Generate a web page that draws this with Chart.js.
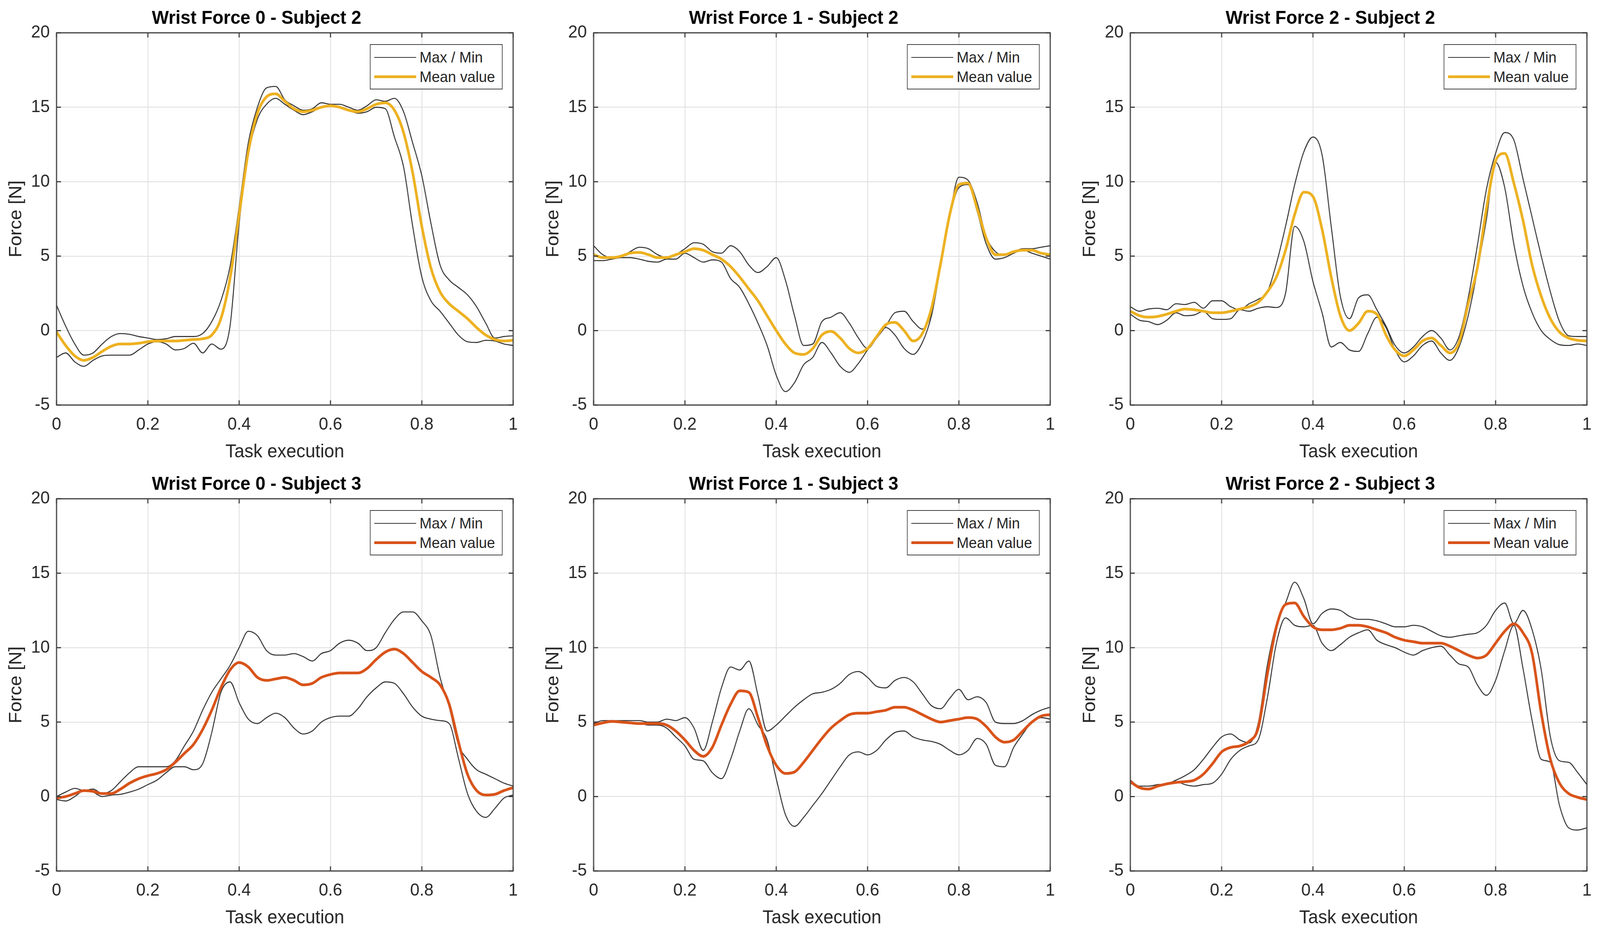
<!DOCTYPE html>
<html>
<head>
<meta charset="utf-8">
<script src="https://cdn.jsdelivr.net/npm/chart.js@4.4.1/dist/chart.umd.min.js"></script>
<style>
  html, body { margin: 0; padding: 0; background: #fff; overflow: hidden; }
  #frame { position: relative; overflow: hidden; background: #fff; }
  #page { position: absolute; left: 0; top: 0; width: 4275px; height: 2376px; background: #fff; transform-origin: 0 0; }
  #page canvas { position: absolute; }
  .legend { position: absolute; width: 355px; height: 116px; box-sizing: border-box;
            border: 2.5px solid #404040; background: #fff;
            font-family: "Liberation Sans", Arial, sans-serif; font-size: 39px; color: #262626; }
  .legend .sw { position: absolute; left: 9.5px; width: 112px; }
  .legend .lbl { position: absolute; left: 131px; line-height: 44px; white-space: nowrap; }
</style>
</head>
<body>
<div id="frame"><div id="page"></div></div>
<script>
// x positions (normalised task execution)
const taskX = [0,0.02,0.04,0.06,0.08,0.1,0.12,0.14,0.16,0.18,0.2,0.22,0.24,0.26,0.28,0.3,0.32,0.34,0.36,0.38,
  0.4,0.42,0.44,0.46,0.48,0.5,0.52,0.54,0.56,0.58,0.6,0.62,0.64,0.66,0.68,0.7,0.72,0.74,0.76,0.78,
  0.8,0.82,0.84,0.86,0.88,0.9,0.92,0.94,0.96,0.98,1];

const xTickValues = [0, 0.2, 0.4, 0.6, 0.8, 1];
const xTickLabels = ["0", "0.2", "0.4", "0.6", "0.8", "1"];
const yTickValues = [-5, 0, 5, 10, 15, 20];
const yTickLabels = ["-5", "0", "5", "10", "15", "20"];

// Wrist Force 0 - Subject 2
const f0s2Max = [1.7,0.3,-0.9,-1.65,-1.5,-0.9,-0.4,-0.2,-0.25,-0.4,-0.5,-0.6,-0.55,-0.4,-0.4,-0.4,-0.2,0.6,2.0,4.3,
  8.3,12.6,15.0,16.3,16.4,15.5,15.1,14.8,14.9,15.3,15.2,15.2,15.0,14.8,15.1,15.5,15.4,15.6,14.7,12.6,
  10.4,7.2,4.4,3.4,2.9,2.4,1.6,0.5,-0.5,-0.4,-0.35];
const f0s2Min = [-1.8,-1.5,-2.1,-2.4,-2.0,-1.7,-1.65,-1.65,-1.65,-1.3,-0.9,-0.75,-0.9,-1.3,-1.2,-0.85,-1.5,-0.9,-1.25,0.3,
  7.2,11.8,14.2,15.2,15.6,15.2,14.8,14.5,14.7,15.0,15.1,15.0,14.8,14.6,14.7,15.0,14.9,13.0,11.0,7.0,
  3.6,2.0,1.3,0.5,-0.3,-0.75,-0.8,-0.65,-0.7,-0.9,-1.0];
const f0s2Mean = [-0.1,-1.0,-1.7,-2.0,-1.8,-1.4,-1.05,-0.9,-0.9,-0.85,-0.75,-0.7,-0.7,-0.7,-0.65,-0.6,-0.55,-0.3,0.8,3.5,
  7.8,12.0,14.6,15.7,15.9,15.4,14.9,14.7,14.8,15.0,15.1,15.0,14.8,14.7,14.9,15.2,15.3,14.8,13.3,10.6,
  7.0,4.2,2.6,1.8,1.3,0.8,0.2,-0.3,-0.6,-0.7,-0.65];

// Wrist Force 1 - Subject 2
const f1s2Max = [5.7,5.1,4.9,5.0,5.3,5.6,5.5,5.1,4.9,5.1,5.5,5.9,5.8,5.3,5.2,5.7,5.3,4.4,3.9,4.3,
  4.9,3.4,1.0,-1.0,-0.9,0.6,0.9,1.2,0.5,-0.5,-1.2,-0.5,0.3,1.2,1.3,0.6,0.1,1.2,4.6,7.8,
  10.3,10.1,8.6,6.3,5.3,5.1,5.3,5.5,5.5,5.6,5.7];
const f1s2Min = [4.7,4.7,4.8,4.9,4.9,4.8,4.65,4.6,4.8,4.8,5.2,4.9,4.6,4.75,4.6,3.5,2.9,1.8,0.5,-1.0,
  -3.0,-4.1,-3.5,-2.3,-1.8,-0.8,-1.5,-2.4,-2.8,-2.2,-1.3,-0.5,0.2,-0.3,-1.2,-1.6,-0.8,1.0,4.3,7.6,
  9.6,9.8,8.0,5.8,4.8,4.9,5.2,5.4,5.2,5.0,4.8];
const f1s2Mean = [5.1,4.9,4.9,5.0,5.2,5.25,5.1,4.9,4.9,5.1,5.3,5.5,5.4,5.1,4.8,4.3,3.6,2.8,2.0,1.0,
  0.0,-0.9,-1.5,-1.6,-1.2,-0.3,-0.05,-0.5,-1.2,-1.5,-1.2,-0.4,0.4,0.55,0.0,-0.7,-0.2,1.5,4.5,7.8,
  9.8,9.9,8.2,6.2,5.1,5.1,5.3,5.4,5.4,5.2,5.1];

// Wrist Force 2 - Subject 2
const f2s2Max = [1.6,1.3,1.45,1.5,1.4,1.8,1.75,1.9,1.5,2.0,2.0,1.6,1.4,1.8,2.1,2.6,4.5,7.0,9.8,12.0,
  13.0,11.8,7.0,2.3,0.8,2.2,2.4,1.4,0.3,-1.0,-1.5,-1.1,-0.4,0.0,-0.5,-1.3,-0.4,2.2,5.7,9.5,
  11.9,13.3,12.8,10.2,7.6,5.0,2.6,0.6,-0.35,-0.4,-0.4];
const f2s2Min = [1.1,0.7,0.6,0.4,0.7,1.2,1.0,1.05,1.3,0.8,0.75,0.8,1.4,1.3,1.5,1.6,1.55,2.5,7.0,6.0,
  3.3,1.2,-1.1,-0.8,-1.3,-1.4,-0.2,0.9,0.2,-1.3,-2.1,-1.7,-1.0,-0.7,-1.5,-2.0,-1.1,1.0,4.0,7.5,
  11.3,9.6,5.8,3.0,1.2,0.0,-0.6,-0.95,-1.0,-0.9,-1.0];
const f2s2Mean = [1.3,1.0,0.9,0.95,1.1,1.3,1.45,1.4,1.3,1.2,1.2,1.3,1.45,1.6,1.9,2.6,3.6,5.4,7.8,9.3,
  9.0,6.8,3.6,1.0,0.0,0.5,1.3,1.1,-0.3,-1.3,-1.7,-1.3,-0.7,-0.5,-1.0,-1.5,-0.8,1.8,4.2,8.2,
  11.4,11.9,9.9,7.4,4.4,2.3,0.8,-0.1,-0.5,-0.65,-0.7];

// Wrist Force 0 - Subject 3
const f0s3Max = [0.0,0.3,0.55,0.4,0.5,0.2,0.4,1.0,1.6,2.0,2.0,2.0,2.0,2.4,3.4,4.4,5.8,7.0,7.9,8.8,
  10.0,11.1,10.8,9.8,9.5,9.5,9.6,9.4,9.1,9.6,9.8,10.3,10.5,10.3,9.8,10.0,11.0,11.9,12.4,12.4,
  11.8,10.8,8.0,6.0,3.5,2.5,1.8,1.5,1.2,0.9,0.7];
const f0s3Min = [-0.2,-0.3,0.0,0.4,0.3,0.0,0.1,0.15,0.3,0.5,0.8,1.1,1.6,2.0,2.0,1.8,2.2,4.3,7.0,7.7,
  6.3,5.2,4.9,5.3,5.6,5.3,4.6,4.2,4.4,5.0,5.3,5.4,5.4,5.9,6.7,7.3,7.7,7.6,6.9,6.0,
  5.4,5.2,5.1,4.9,2.6,0.2,-1.0,-1.4,-0.8,-0.1,0.1];
const f0s3Mean = [-0.1,0.0,0.2,0.4,0.35,0.2,0.2,0.5,0.9,1.2,1.4,1.55,1.8,2.3,2.9,3.5,4.5,5.8,7.3,8.5,
  9.0,8.7,8.0,7.8,7.9,8.0,7.8,7.5,7.6,8.0,8.2,8.3,8.3,8.3,8.6,9.2,9.7,9.9,9.6,9.0,
  8.4,8.0,7.5,6.2,3.7,1.5,0.4,0.1,0.15,0.4,0.6];

// Wrist Force 1 - Subject 3
const f1s3Max = [4.9,5.1,5.1,5.1,5.1,5.1,5.0,5.0,5.2,5.1,5.3,4.6,3.1,5.0,7.3,8.7,8.5,9.1,6.8,4.4,
  4.8,5.4,6.0,6.5,6.9,7.0,7.2,7.6,8.2,8.4,8.0,7.4,7.3,7.8,8.0,7.7,6.9,6.1,5.9,6.6,
  7.2,6.5,6.7,6.3,5.0,4.9,4.9,5.1,5.5,5.8,6.0];
const f1s3Min = [4.8,4.9,5.0,5.0,4.9,4.9,4.8,4.8,4.6,4.0,3.4,2.5,2.4,1.6,1.2,2.5,4.4,5.9,4.8,3.8,
  1.2,-1.2,-2.0,-1.4,-0.6,0.2,1.1,2.0,2.8,3.0,2.8,3.1,3.8,4.3,4.4,4.0,3.8,3.7,3.5,3.1,
  2.8,3.1,3.9,3.5,2.1,2.0,3.3,4.2,5.0,5.3,5.2];
const f1s3Mean = [4.8,4.95,5.05,5.0,4.95,4.9,4.9,4.9,4.8,4.4,3.8,3.1,2.7,3.3,4.8,6.2,7.1,7.0,5.3,3.4,
  2.1,1.55,1.65,2.3,3.1,3.9,4.6,5.1,5.5,5.6,5.6,5.7,5.8,6.0,6.0,5.8,5.5,5.2,5.0,5.1,
  5.2,5.3,5.2,4.7,4.0,3.65,3.8,4.4,5.0,5.4,5.5];

// Wrist Force 2 - Subject 3
const f2s3Max = [1.1,0.7,0.7,0.8,0.85,1.1,1.4,1.8,2.5,3.3,4.0,4.2,3.8,3.6,4.9,8.8,11.6,13.0,14.4,13.3,
  11.6,12.3,12.6,12.5,12.1,11.9,11.9,11.8,11.6,11.4,11.4,11.5,11.4,11.1,10.8,10.7,10.8,10.9,11.0,11.5,
  12.5,13.0,11.6,12.5,11.2,8.5,4.0,2.4,2.3,1.6,0.8];
const f2s3Min = [0.9,0.6,0.5,0.7,0.9,1.0,0.8,0.7,0.8,0.9,1.5,2.5,3.1,3.4,3.8,6.6,10.3,12.0,11.5,11.4,
  11.5,10.3,9.8,10.2,10.7,11.0,11.2,10.5,10.2,10.0,9.7,9.5,9.8,10.0,10.1,9.5,8.9,8.7,7.5,6.8,
  7.8,9.8,11.5,8.6,5.1,2.5,2.3,-0.6,-2.1,-2.25,-2.1];
const f2s3Mean = [1.0,0.6,0.5,0.7,0.85,0.95,1.0,1.1,1.5,2.2,3.0,3.3,3.4,3.7,4.6,8.2,11.4,12.9,13.0,12.1,
  11.4,11.2,11.2,11.3,11.5,11.5,11.4,11.2,11.0,10.7,10.5,10.4,10.3,10.3,10.3,10.1,9.8,9.5,9.3,9.5,
  10.3,11.1,11.6,11.0,9.6,5.6,2.5,0.9,0.2,-0.05,-0.2];

const meanYellow = "#EDB120";
const meanRed = "#D95319";
const envColor = "#333333";
const FONT = "'Liberation Sans', Arial, sans-serif";

const panels = [
  { title: "Wrist Force 0 - Subject 2", max: f0s2Max, min: f0s2Min, mean: f0s2Mean, color: meanYellow, col: 0, row: 0 },
  { title: "Wrist Force 1 - Subject 2", max: f1s2Max, min: f1s2Min, mean: f1s2Mean, color: meanYellow, col: 1, row: 0 },
  { title: "Wrist Force 2 - Subject 2", max: f2s2Max, min: f2s2Min, mean: f2s2Mean, color: meanYellow, col: 2, row: 0 },
  { title: "Wrist Force 0 - Subject 3", max: f0s3Max, min: f0s3Min, mean: f0s3Mean, color: meanRed, col: 0, row: 1 },
  { title: "Wrist Force 1 - Subject 3", max: f1s3Max, min: f1s3Min, mean: f1s3Mean, color: meanRed, col: 1, row: 1 },
  { title: "Wrist Force 2 - Subject 3", max: f2s3Max, min: f2s3Min, mean: f2s3Mean, color: meanRed, col: 2, row: 1 }
];

// plot-area geometry (pixels of the 4275 x 2376 design)
const plotLefts = [151, 1586, 3020];
const plotTops = [84, 1277];
const PLOT_W = 1220, PLOT_H = 953;
const AXIS_W = 151, TOP_H = 84, BOTTOM_H = 150, RIGHT_PAD = 20;

// axes box + inward tick marks, MATLAB style
const axesBox = {
  id: "axesBox",
  afterDraw(chart) {
    const { ctx, chartArea: a, scales } = chart;
    const tick = 12;
    ctx.save();
    ctx.strokeStyle = "#404040";
    ctx.lineWidth = 3;
    ctx.beginPath();
    scales.x.ticks.forEach(t => {
      const px = scales.x.getPixelForValue(t.value);
      ctx.moveTo(px, a.bottom); ctx.lineTo(px, a.bottom - tick);
      ctx.moveTo(px, a.top); ctx.lineTo(px, a.top + tick);
    });
    scales.y.ticks.forEach(t => {
      const py = scales.y.getPixelForValue(t.value);
      ctx.moveTo(a.left, py); ctx.lineTo(a.left + tick, py);
      ctx.moveTo(a.right, py); ctx.lineTo(a.right - tick, py);
    });
    ctx.stroke();
    ctx.strokeRect(a.left, a.top, a.right - a.left, a.bottom - a.top);
    ctx.restore();
  }
};

function toPoints(values) {
  return taskX.map((x, i) => ({ x, y: values[i] }));
}

function addLegend(page, p) {
  const left = plotLefts[p.col] + PLOT_W - 28 - 355;
  const top = plotTops[p.row] + 29;
  const lg = document.createElement("div");
  lg.className = "legend";
  lg.style.left = left + "px";
  lg.style.top = top + "px";
  lg.innerHTML = `
    <div class="sw" style="top:30.5px;height:2.6px;background:${envColor}"></div>
    <div class="lbl" style="top:9.5px">Max / Min</div>
    <div class="sw" style="top:78px;height:7px;background:${p.color}"></div>
    <div class="lbl" style="top:59.5px">Mean value</div>`;
  page.appendChild(lg);
}

function renderPanel(page, p) {
  const canvas = document.createElement("canvas");
  const w = AXIS_W + PLOT_W + RIGHT_PAD;
  const h = TOP_H + PLOT_H + BOTTOM_H;
  canvas.width = w;
  canvas.height = h;
  canvas.style.width = w + "px";
  canvas.style.height = h + "px";
  canvas.style.left = (plotLefts[p.col] - AXIS_W) + "px";
  canvas.style.top = (plotTops[p.row] - TOP_H) + "px";
  page.appendChild(canvas);

  new Chart(canvas, {
    type: "line",
    data: {
      datasets: [
        { label: "Mean value", data: toPoints(p.mean), borderColor: p.color, borderWidth: 7 },
        { label: "Max", data: toPoints(p.max), borderColor: envColor, borderWidth: 2.6 },
        { label: "Min", data: toPoints(p.min), borderColor: envColor, borderWidth: 2.6 }
      ]
    },
    options: {
      responsive: false,
      animation: false,
      devicePixelRatio: 1,
      layout: { padding: { top: 0, left: 0, bottom: 0, right: RIGHT_PAD } },
      elements: {
        point: { radius: 0 },
        line: { cubicInterpolationMode: "monotone", fill: false, borderCapStyle: "round", borderJoinStyle: "round" }
      },
      plugins: {
        legend: { display: false },
        tooltip: { enabled: false },
        title: {
          display: true,
          text: p.title,
          color: "#000",
          font: { family: FONT, size: 48, weight: "bold" },
          padding: { top: 19.2, bottom: 7.2 }
        }
      },
      scales: {
        x: {
          type: "linear",
          min: 0,
          max: 1,
          afterBuildTicks: s => { s.ticks = xTickValues.map(v => ({ value: v })); },
          afterFit: s => { s.height = BOTTOM_H; s.paddingLeft = 0; s.paddingRight = 0; },
          ticks: {
            callback: (v, i) => xTickLabels[i],
            color: "#262626",
            padding: 24,
            maxRotation: 0,
            font: { family: FONT, size: 45 }
          },
          grid: { color: "#e3e3e3", lineWidth: 2.5, drawTicks: false },
          border: { display: false },
          title: {
            display: true,
            text: "Task execution",
            color: "#262626",
            font: { family: FONT, size: 48 },
            padding: { top: 0, bottom: 0 }
          }
        },
        y: {
          type: "linear",
          min: -5,
          max: 20,
          afterBuildTicks: s => { s.ticks = yTickValues.map(v => ({ value: v })); },
          afterFit: s => { s.width = AXIS_W; },
          ticks: {
            callback: (v, i) => yTickLabels[i],
            color: "#262626",
            padding: 18,
            font: { family: FONT, size: 45 }
          },
          grid: { color: "#e3e3e3", lineWidth: 2.5, drawTicks: false },
          border: { display: false },
          title: {
            display: true,
            text: "Force [N]",
            color: "#262626",
            font: { family: FONT, size: 48 },
            padding: { top: 15, bottom: 0 }
          }
        }
      }
    },
    plugins: [axesBox]
  });

  addLegend(page, p);
}

// stretch the 4275 x 2376 design over the viewport the browser really gives
const frame = document.getElementById("frame");
const page = document.getElementById("page");
const vw = window.innerWidth || 4275;
const vh = window.innerHeight || 2376;
frame.style.width = vw + "px";
frame.style.height = vh + "px";
const sx = vw / 4275, sy = vh / 2376;
if (Math.abs(sx - 1) > 0.001 || Math.abs(sy - 1) > 0.001) {
  page.style.transform = `scale(${sx}, ${sy})`;
}
panels.forEach(p => renderPanel(page, p));
</script>
</body>
</html>
